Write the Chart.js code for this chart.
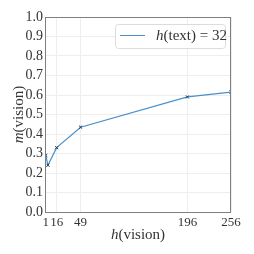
<!DOCTYPE html>
<html>
<head>
<meta charset="utf-8">
<script src="https://cdn.jsdelivr.net/npm/chart.js@4"></script>
<style>
  html, body { margin: 0; padding: 0; background: #fff; }
  #wrap { width: 254px; height: 254px; }
</style>
</head>
<body>
<div id="wrap"><canvas id="chart" width="254" height="254"></canvas></div>
<script>
// values
const hVision = [1, 4, 16, 49, 196, 256];
const mVision = [0.29, 0.24, 0.33, 0.435, 0.59, 0.615];
const xTicks = [1, 16, 49, 196, 256];
const yTicks = [0, 0.1, 0.2, 0.3, 0.4, 0.5, 0.6, 0.7, 0.8, 0.9, 1.0];
const seriesLabel = 'h(text) = 32';

const serif = '"Liberation Serif", "DejaVu Serif", serif';
const lineColor = '#4a8fc9';
const textColor = '#333';

// draws the box, the axis titles and the legend (mixed italic text)
const extras = {
    id: 'extras',
    afterDraw(chart) {
        const ctx = chart.ctx;
        const a = chart.chartArea;
        ctx.save();
        ctx.strokeStyle = '#7f7f7f';
        ctx.lineWidth = 1;
        ctx.strokeRect(a.left + 0.5, a.top + 0.5, a.right - a.left - 1, a.bottom - a.top);

        function mixed(parts, x, y) {
            // parts: [text, italic]
            let total = 0;
            parts.forEach(p => {
                ctx.font = (p[1] ? 'italic ' : '') + '15px ' + serif;
                total += ctx.measureText(p[0]).width;
            });
            let cx = x - total / 2;
            parts.forEach(p => {
                ctx.font = (p[1] ? 'italic ' : '') + '15px ' + serif;
                ctx.fillText(p[0], cx, y);
                cx += ctx.measureText(p[0]).width;
            });
        }

        ctx.fillStyle = textColor;
        ctx.textBaseline = 'middle';
        ctx.textAlign = 'left';
        mixed([['h', true], ['(vision)', false]], (a.left + a.right) / 2, 235);

        ctx.save();
        ctx.translate(19, (a.top + a.bottom) / 2);
        ctx.rotate(-Math.PI / 2);
        mixed([['m', true], ['(vision)', false]], 0, 0);
        ctx.restore();

        // legend
        const lx = 115, ly = 24, lw = 110, lh = 24;
        ctx.fillStyle = 'rgba(255,255,255,0.85)';
        ctx.strokeStyle = '#dcdcdc';
        ctx.beginPath();
        ctx.roundRect(lx + 0.5, ly + 0.5, lw, lh, 3);
        ctx.fill();
        ctx.stroke();
        ctx.strokeStyle = lineColor;
        ctx.beginPath();
        ctx.moveTo(120, 35.5);
        ctx.lineTo(145, 35.5);
        ctx.stroke();
        ctx.fillStyle = textColor;
        ctx.font = 'italic 15px ' + serif;
        ctx.fillText('h', 156, 36);
        let w = ctx.measureText('h').width;
        ctx.font = '15px ' + serif;
        ctx.fillText(seriesLabel.slice(1), 156 + w, 36);
        ctx.restore();
    }
};

new Chart(document.getElementById('chart'), {
    type: 'line',
    data: {
        datasets: [{
            label: seriesLabel,
            data: hVision.map((h, i) => ({ x: h, y: mVision[i] })),
            borderColor: lineColor,
            borderWidth: 1.2,
            pointStyle: 'crossRot',
            pointRadius: 2.2,
            pointBorderColor: '#1f3b57',
            pointBorderWidth: 1,
            tension: 0,
            fill: false
        }]
    },
    options: {
        responsive: false,
        animation: false,
        layout: { padding: { left: 0, right: 23, top: 17, bottom: 0 } },
        plugins: { legend: { display: false }, tooltip: { enabled: false } },
        scales: {
            x: {
                type: 'linear',
                min: 0,
                max: 256,
                afterBuildTicks: scale => { scale.ticks = xTicks.map(v => ({ value: v })); },
                afterFit: scale => { scale.height = 42; },
                grid: { color: '#eeeeee', drawTicks: false },
                border: { display: false },
                ticks: {
                    autoSkip: false,
                    maxRotation: 0,
                    padding: 3,
                    color: textColor,
                    font: { family: serif, size: 13 }
                }
            },
            y: {
                min: 0,
                max: 1,
                afterBuildTicks: scale => { scale.ticks = yTicks.map(v => ({ value: v })); },
                afterFit: scale => { scale.width = 45; },
                grid: { color: '#eeeeee', drawTicks: false },
                border: { display: false },
                ticks: {
                    autoSkip: false,
                    padding: 2,
                    color: textColor,
                    font: { family: serif, size: 14 },
                    callback: v => v.toFixed(1)
                }
            }
        }
    },
    plugins: [extras]
});
</script>
</body>
</html>
